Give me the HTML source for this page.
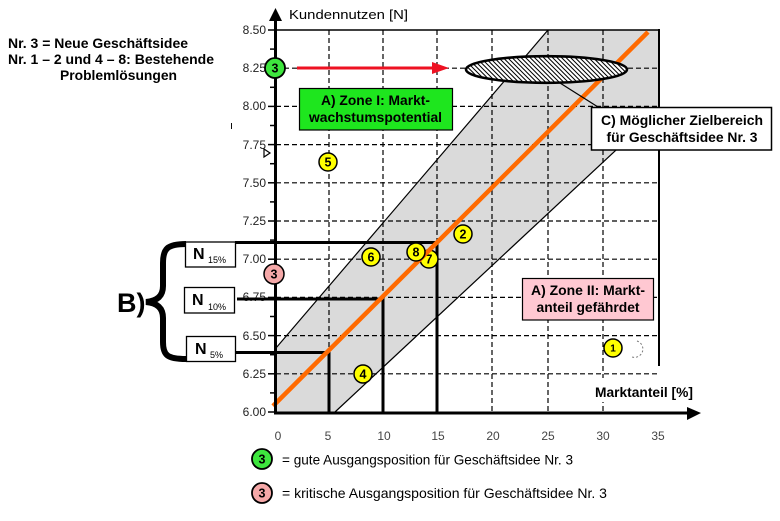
<!DOCTYPE html>
<html><head><meta charset="utf-8"><style>
html,body{margin:0;padding:0;background:#fff;}
svg{display:block;}
text{font-family:"Liberation Sans",Arial,sans-serif;}
</style></head><body>
<svg width="780" height="521" viewBox="0 0 780 521" xmlns="http://www.w3.org/2000/svg">
<defs>
<pattern id="hatch" patternUnits="userSpaceOnUse" width="4.5" height="4.5">
<rect width="4.5" height="4.5" fill="#fff"/>
<path d="M-1,-1 L5.5,5.5 M-1,3.5 L1,5.5 M3.5,-1 L5.5,1" stroke="#000" stroke-width="1"/>
</pattern>
</defs>
<rect width="780" height="521" fill="#fff"/>

<polygon points="276,348 548,30 659,30 659,110 335,412 276,412" fill="#dadada"/>

<g stroke="#000" stroke-width="1.2" stroke-dasharray="5,3" fill="none">
<line x1="276" y1="373.8" x2="659" y2="373.8"/>
<line x1="276" y1="335.6" x2="659" y2="335.6"/>
<line x1="276" y1="297.4" x2="659" y2="297.4"/>
<line x1="276" y1="259.2" x2="659" y2="259.2"/>
<line x1="276" y1="221" x2="659" y2="221"/>
<line x1="276" y1="182.8" x2="659" y2="182.8"/>
<line x1="276" y1="144.6" x2="659" y2="144.6"/>
<line x1="276" y1="106.4" x2="659" y2="106.4"/>
<line x1="276" y1="68.2" x2="659" y2="68.2"/>
<line x1="329" y1="30" x2="329" y2="412"/>
<line x1="383" y1="30" x2="383" y2="412"/>
<line x1="437" y1="30" x2="437" y2="412"/>
<line x1="492" y1="30" x2="492" y2="412"/>
<line x1="548" y1="30" x2="548" y2="412"/>
<line x1="603" y1="30" x2="603" y2="412"/>
</g>

<line x1="276" y1="348" x2="548" y2="30" stroke="#000" stroke-width="1.2"/>
<line x1="335" y1="412" x2="659" y2="110" stroke="#000" stroke-width="1.2"/>

<line x1="276" y1="30" x2="660" y2="30" stroke="#000" stroke-width="1.6"/>
<line x1="659" y1="29" x2="659" y2="366" stroke="#000" stroke-width="2"/>

<g stroke="#000" stroke-width="3" fill="none">
<polyline points="235,242.5 437,242.5 437,412"/>
<polyline points="237,299 383,299 383,412"/>
<polyline points="235,352.5 329,352.5 329,412"/>
</g>

<circle cx="429" cy="259" r="9" fill="#ffff00" stroke="#000" stroke-width="1.5"/>
<text x="429" y="263.5" font-size="12.5" font-weight="bold" text-anchor="middle">7</text>

<line x1="273" y1="406" x2="648" y2="32" stroke="#ff6a00" stroke-width="4.5"/>

<ellipse cx="546.5" cy="69.5" rx="80.5" ry="13.3" fill="url(#hatch)" stroke="#000" stroke-width="2.6"/>
<line x1="560" y1="83" x2="598" y2="107" stroke="#000" stroke-width="1.2"/>

<line x1="297" y1="68" x2="434" y2="68" stroke="#ee1122" stroke-width="3"/>
<polygon points="432,62 432,74 449,68" fill="#ee1122"/>

<g stroke="#000" stroke-width="1.5" fill="#ffff00">
<circle cx="328" cy="162" r="9"/>
<circle cx="371" cy="257" r="9"/>
<circle cx="416" cy="252" r="9"/>
<circle cx="463" cy="234" r="9"/>
<circle cx="363" cy="374" r="9"/>
<circle cx="613" cy="348" r="9"/>
</g>
<g font-size="12.5" font-weight="bold" text-anchor="middle" fill="#000">
<text x="328" y="166.5">5</text>
<text x="371" y="261.5">6</text>
<text x="416" y="256.5">8</text>
<text x="463" y="238.5">2</text>
<text x="363" y="378.5">4</text>
<text x="613" y="351.5" font-size="10">1</text>
</g>
<path d="M637,341 A8,8 0 0 1 632,357" fill="none" stroke="#777" stroke-width="1" stroke-dasharray="2,2"/>

<rect x="299.5" y="88.5" width="153" height="41.5" fill="#1ee61e" stroke="#000" stroke-width="1.2"/>
<text x="375.5" y="105" font-size="14" font-weight="bold" text-anchor="middle" textLength="109" lengthAdjust="spacingAndGlyphs">A) Zone I: Markt-</text>
<text x="375.5" y="122" font-size="14" font-weight="bold" text-anchor="middle" textLength="133" lengthAdjust="spacingAndGlyphs">wachstumspotential</text>

<rect x="591.5" y="107.5" width="180" height="42.5" fill="#fff" stroke="#000" stroke-width="1.5"/>
<text x="682" y="125" font-size="14" font-weight="bold" text-anchor="middle" textLength="162" lengthAdjust="spacingAndGlyphs">C) Möglicher Zielbereich</text>
<text x="682" y="142" font-size="14" font-weight="bold" text-anchor="middle" textLength="151" lengthAdjust="spacingAndGlyphs">für Geschäftsidee Nr. 3</text>

<rect x="522.5" y="278.5" width="131" height="41.5" fill="#ffc8d2" stroke="#000" stroke-width="1.2"/>
<text x="588" y="295" font-size="14" font-weight="bold" text-anchor="middle" textLength="114" lengthAdjust="spacingAndGlyphs">A) Zone II: Markt-</text>
<text x="588" y="312" font-size="14" font-weight="bold" text-anchor="middle" textLength="103" lengthAdjust="spacingAndGlyphs">anteil gefährdet</text>

<rect x="592" y="378" width="104" height="24" fill="#fff"/>
<text x="595" y="397" font-size="13.5" font-weight="bold" textLength="98" lengthAdjust="spacingAndGlyphs">Marktanteil [%]</text>

<line x1="275.5" y1="413" x2="275.5" y2="20" stroke="#000" stroke-width="3"/>
<polygon points="269,21 282,21 275.5,8" fill="#000"/>
<line x1="274" y1="413" x2="689" y2="413" stroke="#000" stroke-width="3"/>
<polygon points="687,407 687,420 701,413" fill="#000"/>

<g stroke="#000" stroke-width="1.5">
<line x1="268" y1="30" x2="276" y2="30"/>
<line x1="268" y1="68.2" x2="276" y2="68.2"/>
<line x1="268" y1="106.4" x2="276" y2="106.4"/>
<line x1="268" y1="144.6" x2="276" y2="144.6"/>
<line x1="268" y1="182.8" x2="276" y2="182.8"/>
<line x1="268" y1="221" x2="276" y2="221"/>
<line x1="268" y1="259.2" x2="276" y2="259.2"/>
<line x1="268" y1="297.4" x2="276" y2="297.4"/>
<line x1="268" y1="335.6" x2="276" y2="335.6"/>
<line x1="268" y1="373.8" x2="276" y2="373.8"/>
<line x1="268" y1="412" x2="276" y2="412"/>
<line x1="270" y1="49.1" x2="276" y2="49.1"/>
<line x1="270" y1="87.3" x2="276" y2="87.3"/>
<line x1="270" y1="125.5" x2="276" y2="125.5"/>
<line x1="270" y1="163.7" x2="276" y2="163.7"/>
<line x1="270" y1="201.9" x2="276" y2="201.9"/>
<line x1="270" y1="240.1" x2="276" y2="240.1"/>
<line x1="270" y1="278.3" x2="276" y2="278.3"/>
<line x1="270" y1="316.5" x2="276" y2="316.5"/>
<line x1="270" y1="354.7" x2="276" y2="354.7"/>
<line x1="270" y1="392.9" x2="276" y2="392.9"/>
</g>

<g font-size="12" fill="#222" text-anchor="end">
<text x="266" y="34">8.50</text>
<text x="266" y="72">8.25</text>
<text x="266" y="110">8.00</text>
<text x="266" y="149">7.75</text>
<text x="266" y="187">7.50</text>
<text x="266" y="225">7.25</text>
<text x="266" y="263">7.00</text>
<text x="266" y="301">6.75</text>
<text x="266" y="340">6.50</text>
<text x="266" y="378">6.25</text>
<text x="266" y="416">6.00</text>
</g>
<line x1="237" y1="299" x2="268" y2="299" stroke="#000" stroke-width="3"/>
<polygon points="264,149 264,157 270,153" fill="#fff" stroke="#000" stroke-width="1.2"/>
<text x="230" y="129" font-size="11" fill="#000">ı</text>

<g font-size="12" fill="#444" text-anchor="middle">
<text x="278" y="440">0</text>
<text x="328" y="440">5</text>
<text x="384" y="440">10</text>
<text x="438" y="440">15</text>
<text x="493" y="440">20</text>
<text x="548" y="440">25</text>
<text x="603" y="440">30</text>
<text x="658" y="440">35</text>
</g>

<text x="289" y="19" font-size="13" fill="#000" textLength="119" lengthAdjust="spacingAndGlyphs">Kundennutzen [N]</text>

<circle cx="275" cy="68" r="10" fill="#3ee63e" stroke="#000" stroke-width="1.8"/>
<text x="275" y="72.5" font-size="12.5" font-weight="bold" text-anchor="middle">3</text>
<circle cx="274" cy="274" r="10" fill="#f5a8a8" stroke="#000" stroke-width="1.5"/>
<text x="274" y="278.5" font-size="12.5" font-weight="bold" text-anchor="middle">3</text>

<g fill="#fff" stroke="#000" stroke-width="1.3">
<rect x="185.5" y="242" width="50" height="25"/>
<rect x="184.5" y="287.5" width="50" height="25.5"/>
<rect x="186.5" y="336.5" width="49" height="25"/>
</g>
<g font-weight="bold" fill="#000">
<text x="193" y="259" font-size="16">N</text>
<text x="208" y="263" font-size="9" font-weight="normal">15%</text>
<text x="192" y="305" font-size="16">N</text>
<text x="208" y="310" font-size="9" font-weight="normal">10%</text>
<text x="195" y="354" font-size="16">N</text>
<text x="210" y="358" font-size="9" font-weight="normal">5%</text>
</g>

<path d="M186,244 C167,244 163,249 163,263 L163,286 C163,296 157,301 146,302 C157,303 163,308 163,318 L163,342 C163,355 167,359 186,359" fill="none" stroke="#000" stroke-width="6"/>
<text x="117" y="312" font-size="27" font-weight="bold" fill="#000">B)</text>

<g font-size="14" font-weight="bold" fill="#000">
<text x="8" y="48" textLength="180" lengthAdjust="spacingAndGlyphs">Nr. 3 = Neue Geschäftsidee</text>
<text x="8" y="64" textLength="206" lengthAdjust="spacingAndGlyphs">Nr. 1 – 2 und 4 – 8: Bestehende</text>
<text x="60" y="80" textLength="117" lengthAdjust="spacingAndGlyphs">Problemlösungen</text>
</g>

<circle cx="262" cy="459" r="10" fill="#3ee63e" stroke="#000" stroke-width="1.8"/>
<text x="262" y="463.5" font-size="12.5" font-weight="bold" text-anchor="middle">3</text>
<circle cx="262" cy="493" r="10" fill="#f5a8a8" stroke="#000" stroke-width="1.8"/>
<text x="262" y="497.5" font-size="12.5" font-weight="bold" text-anchor="middle">3</text>
<text x="282" y="464.5" font-size="14" fill="#000" textLength="291" lengthAdjust="spacingAndGlyphs">= gute Ausgangsposition für Geschäftsidee Nr. 3</text>
<text x="282" y="498" font-size="14" fill="#000" textLength="325" lengthAdjust="spacingAndGlyphs">= kritische Ausgangsposition für Geschäftsidee Nr. 3</text>
</svg>
</body></html>
